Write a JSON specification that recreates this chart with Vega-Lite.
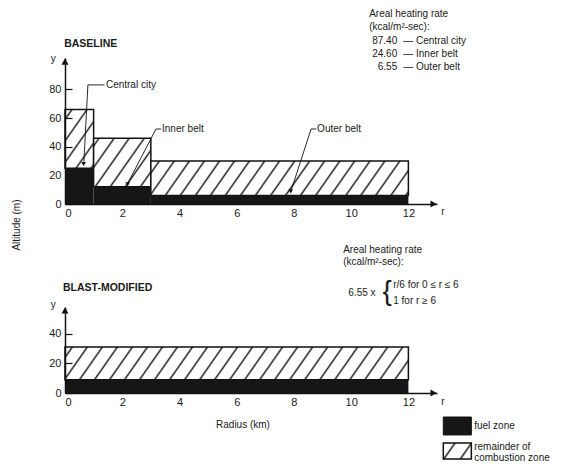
{
  "$schema": "https://vega.github.io/schema/vega-lite/v6.json",
  "background": "white",
  "padding": {"left": 11, "top": 8, "right": 2, "bottom": 2},
  "bounds": "flush",
  "spacing": 103,
  "config": {
    "view": {"stroke": null},
    "font": "Liberation Sans",
    "axis": {"grid": false, "labelFont": "Liberation Sans", "labelFontSize": 11, "labelColor": "#1a1a1a", "domainColor": "#111111", "domainWidth": 1.5, "tickColor": "#111111", "tickWidth": 1.2, "labelOverlap": false},
    "text": {"font": "Liberation Sans", "fontSize": 10, "color": "#1a1a1a"}
  },
  "resolve": {"scale": {"x": "independent", "y": "independent"}},
  "vconcat": [
    {
      "width": 372,
      "height": 146,
      "data": {"values": [
        {"panel": "Baseline", "zone": "Central city", "r0": 0, "r1": 1, "fuel": 25, "top": 66},
        {"panel": "Baseline", "zone": "Inner belt", "r0": 1, "r1": 3, "fuel": 12, "top": 46},
        {"panel": "Baseline", "zone": "Outer belt", "r0": 3, "r1": 12, "fuel": 6, "top": 30}
      ]},
      "layer": [
        {
          "transform": [{"filter": "datum.zone === 'Central city'"}],
          "mark": {"type": "rect", "stroke": "#111111", "strokeWidth": 1.5, "fill": {"gradient": "linear", "x1": 0, "y1": 0, "x2": 0.796, "y2": 1.142, "stops": [
            {"offset": 0.074, "color": "#ffffff"}, {"offset": 0.1, "color": "#222222"}, {"offset": 0.126, "color": "#ffffff"},
            {"offset": 0.29, "color": "#ffffff"}, {"offset": 0.316, "color": "#222222"}, {"offset": 0.342, "color": "#ffffff"},
            {"offset": 0.506, "color": "#ffffff"}, {"offset": 0.532, "color": "#222222"}, {"offset": 0.558, "color": "#ffffff"},
            {"offset": 0.722, "color": "#ffffff"}, {"offset": 0.748, "color": "#222222"}, {"offset": 0.774, "color": "#ffffff"},
            {"offset": 0.938, "color": "#ffffff"}, {"offset": 0.964, "color": "#222222"}, {"offset": 0.99, "color": "#ffffff"}
          ]}},
          "encoding": {
            "x": {"field": "r0", "type": "quantitative", "scale": {"domain": [0, 13], "nice": false}, "axis": {"values": [0, 2, 4, 6, 8, 10, 12], "ticks": false, "labelPadding": 3, "labelOverlap": false, "title": null}},
            "x2": {"field": "r1"},
            "y": {"field": "fuel", "type": "quantitative", "scale": {"domain": [0, 102], "nice": false}, "axis": {"values": [0, 20, 40, 60, 80], "tickSize": -7, "labelPadding": 11, "labelOverlap": false, "zindex": 1, "title": null}},
            "y2": {"field": "top"}
          }
        },
        {
          "transform": [{"filter": "datum.zone === 'Inner belt'"}],
          "mark": {"type": "rect", "stroke": "#111111", "strokeWidth": 1.5, "fill": {"gradient": "linear", "x1": 0, "y1": 0, "x2": 1.178, "y2": 0.702, "stops": [
            {"offset": 0.04, "color": "#ffffff"}, {"offset": 0.06, "color": "#222222"}, {"offset": 0.08, "color": "#ffffff"},
            {"offset": 0.205, "color": "#ffffff"}, {"offset": 0.225, "color": "#222222"}, {"offset": 0.245, "color": "#ffffff"},
            {"offset": 0.37, "color": "#ffffff"}, {"offset": 0.39, "color": "#222222"}, {"offset": 0.41, "color": "#ffffff"},
            {"offset": 0.535, "color": "#ffffff"}, {"offset": 0.555, "color": "#222222"}, {"offset": 0.575, "color": "#ffffff"},
            {"offset": 0.7, "color": "#ffffff"}, {"offset": 0.72, "color": "#222222"}, {"offset": 0.74, "color": "#ffffff"},
            {"offset": 0.865, "color": "#ffffff"}, {"offset": 0.885, "color": "#222222"}, {"offset": 0.905, "color": "#ffffff"}
          ]}},
          "encoding": {
            "x": {"field": "r0", "type": "quantitative", "axis": {"values": [0, 2, 4, 6, 8, 10, 12], "ticks": false, "labelPadding": 3, "labelOverlap": false, "title": null}},
            "x2": {"field": "r1"},
            "y": {"field": "fuel", "type": "quantitative", "axis": {"values": [0, 20, 40, 60, 80], "tickSize": -7, "labelPadding": 11, "labelOverlap": false, "zindex": 1, "title": null}},
            "y2": {"field": "top"}
          }
        },
        {
          "transform": [{"filter": "datum.zone === 'Outer belt'"}],
          "mark": {"type": "rect", "stroke": "#111111", "strokeWidth": 1.5, "fill": {"gradient": "linear", "x1": 0, "y1": 0, "x2": 1.084, "y2": 0.1013, "stops": [
            {"offset": 0.0235, "color": "#ffffff"}, {"offset": 0.03, "color": "#222222"}, {"offset": 0.0365, "color": "#ffffff"},
            {"offset": 0.0765, "color": "#ffffff"}, {"offset": 0.083, "color": "#222222"}, {"offset": 0.0895, "color": "#ffffff"},
            {"offset": 0.1305, "color": "#ffffff"}, {"offset": 0.137, "color": "#222222"}, {"offset": 0.1435, "color": "#ffffff"},
            {"offset": 0.1835, "color": "#ffffff"}, {"offset": 0.19, "color": "#222222"}, {"offset": 0.1965, "color": "#ffffff"},
            {"offset": 0.2375, "color": "#ffffff"}, {"offset": 0.244, "color": "#222222"}, {"offset": 0.2505, "color": "#ffffff"},
            {"offset": 0.2905, "color": "#ffffff"}, {"offset": 0.297, "color": "#222222"}, {"offset": 0.3035, "color": "#ffffff"},
            {"offset": 0.3435, "color": "#ffffff"}, {"offset": 0.35, "color": "#222222"}, {"offset": 0.3565, "color": "#ffffff"},
            {"offset": 0.3975, "color": "#ffffff"}, {"offset": 0.404, "color": "#222222"}, {"offset": 0.4105, "color": "#ffffff"},
            {"offset": 0.4505, "color": "#ffffff"}, {"offset": 0.457, "color": "#222222"}, {"offset": 0.4635, "color": "#ffffff"},
            {"offset": 0.5045, "color": "#ffffff"}, {"offset": 0.511, "color": "#222222"}, {"offset": 0.5175, "color": "#ffffff"},
            {"offset": 0.5575, "color": "#ffffff"}, {"offset": 0.564, "color": "#222222"}, {"offset": 0.5705, "color": "#ffffff"},
            {"offset": 0.6105, "color": "#ffffff"}, {"offset": 0.617, "color": "#222222"}, {"offset": 0.6235, "color": "#ffffff"},
            {"offset": 0.6645, "color": "#ffffff"}, {"offset": 0.671, "color": "#222222"}, {"offset": 0.6775, "color": "#ffffff"},
            {"offset": 0.7175, "color": "#ffffff"}, {"offset": 0.724, "color": "#222222"}, {"offset": 0.7305, "color": "#ffffff"},
            {"offset": 0.7715, "color": "#ffffff"}, {"offset": 0.778, "color": "#222222"}, {"offset": 0.7845, "color": "#ffffff"},
            {"offset": 0.8245, "color": "#ffffff"}, {"offset": 0.831, "color": "#222222"}, {"offset": 0.8375, "color": "#ffffff"},
            {"offset": 0.8775, "color": "#ffffff"}, {"offset": 0.884, "color": "#222222"}, {"offset": 0.8905, "color": "#ffffff"},
            {"offset": 0.9315, "color": "#ffffff"}, {"offset": 0.938, "color": "#222222"}, {"offset": 0.9445, "color": "#ffffff"},
            {"offset": 0.9845, "color": "#ffffff"}, {"offset": 0.991, "color": "#222222"}, {"offset": 0.9975, "color": "#ffffff"}
          ]}},
          "encoding": {
            "x": {"field": "r0", "type": "quantitative", "axis": {"values": [0, 2, 4, 6, 8, 10, 12], "ticks": false, "labelPadding": 3, "labelOverlap": false, "title": null}},
            "x2": {"field": "r1"},
            "y": {"field": "fuel", "type": "quantitative", "axis": {"values": [0, 20, 40, 60, 80], "tickSize": -7, "labelPadding": 11, "labelOverlap": false, "zindex": 1, "title": null}},
            "y2": {"field": "top"}
          }
        },
        {
          "mark": {"type": "rect", "fill": "#161616"},
          "encoding": {
            "x": {"field": "r0", "type": "quantitative", "axis": {"values": [0, 2, 4, 6, 8, 10, 12], "ticks": false, "labelPadding": 3, "labelOverlap": false, "title": null}},
            "x2": {"field": "r1"},
            "y": {"field": "fuel", "type": "quantitative", "axis": {"values": [0, 20, 40, 60, 80], "tickSize": -7, "labelPadding": 11, "labelOverlap": false, "zindex": 1, "title": null}},
            "y2": {"datum": 0}
          }
        },
        {
          "data": {"values": [
            {"r_a": 0.80, "alt_a": 83.2, "r_b": 1.38, "alt_b": 83.2},
            {"r_a": 0.80, "alt_a": 83.2, "r_b": 0.66, "alt_b": 29.5},
            {"r_a": 3.18, "alt_a": 52.4, "r_b": 3.36, "alt_b": 52.4},
            {"r_a": 3.18, "alt_a": 52.4, "r_b": 2.22, "alt_b": 15.5},
            {"r_a": 8.60, "alt_a": 52.4, "r_b": 8.78, "alt_b": 52.4},
            {"r_a": 8.60, "alt_a": 52.4, "r_b": 7.92, "alt_b": 10.5}
          ]},
          "mark": {"type": "rule", "color": "#111111", "strokeWidth": 0.9},
          "encoding": {
            "x": {"field": "r_a", "type": "quantitative", "axis": {"values": [0, 2, 4, 6, 8, 10, 12], "ticks": false, "labelPadding": 3, "labelOverlap": false, "title": null}},
            "y": {"field": "alt_a", "type": "quantitative", "axis": {"values": [0, 20, 40, 60, 80], "tickSize": -7, "labelPadding": 11, "labelOverlap": false, "zindex": 1, "title": null}},
            "x2": {"field": "r_b"},
            "y2": {"field": "alt_b"}
          }
        },
        {
          "data": {"values": [
            {"r": 0.65, "alt": 28.0},
            {"r": 2.19, "alt": 13.8},
            {"r": 7.89, "alt": 8.8}
          ]},
          "mark": {"type": "point", "shape": "triangle-down", "filled": true, "color": "#111111", "size": 22, "opacity": 1},
          "encoding": {
            "x": {"field": "r", "type": "quantitative", "axis": {"values": [0, 2, 4, 6, 8, 10, 12], "ticks": false, "labelPadding": 3, "labelOverlap": false, "title": null}},
            "y": {"field": "alt", "type": "quantitative", "axis": {"values": [0, 20, 40, 60, 80], "tickSize": -7, "labelPadding": 11, "labelOverlap": false, "zindex": 1, "title": null}}
          }
        },
        {
          "data": {"values": [{}]},
          "mark": {"type": "point", "shape": "triangle-up", "filled": true, "color": "#111111", "size": 50, "opacity": 1},
          "encoding": {
            "x": {"datum": 0, "type": "quantitative", "axis": {"values": [0, 2, 4, 6, 8, 10, 12], "ticks": false, "labelPadding": 3, "labelOverlap": false, "title": null}},
            "y": {"datum": 99.5, "type": "quantitative", "axis": {"values": [0, 20, 40, 60, 80], "tickSize": -7, "labelPadding": 11, "labelOverlap": false, "zindex": 1, "title": null}}
          }
        },
        {
          "data": {"values": [{}]},
          "mark": {"type": "point", "shape": "triangle-right", "filled": true, "color": "#111111", "size": 50, "opacity": 1},
          "encoding": {
            "x": {"datum": 12.88, "type": "quantitative", "axis": {"values": [0, 2, 4, 6, 8, 10, 12], "ticks": false, "labelPadding": 3, "labelOverlap": false, "title": null}},
            "y": {"datum": 0, "type": "quantitative", "axis": {"values": [0, 20, 40, 60, 80], "tickSize": -7, "labelPadding": 11, "labelOverlap": false, "zindex": 1, "title": null}}
          }
        },
        {
          "data": {"values": [
            {"label": "Central city", "r": 1.43, "alt": 83.2},
            {"label": "Inner belt", "r": 3.39, "alt": 52.4},
            {"label": "Outer belt", "r": 8.81, "alt": 52.4},
            {"label": "Areal heating rate", "r": 10.63, "alt": 132.9},
            {"label": "(kcal/m²-sec):", "r": 10.63, "alt": 123.8},
            {"label": "— Central city", "r": 11.82, "alt": 114},
            {"label": "— Inner belt", "r": 11.82, "alt": 104.9},
            {"label": "— Outer belt", "r": 11.82, "alt": 95.8},
            {"label": "r", "r": 13.15, "alt": -5.6},
            {"label": "y", "r": -0.5, "alt": 101.4}
          ]},
          "mark": {"type": "text", "align": "left", "baseline": "middle", "fontSize": 10},
          "encoding": {
            "x": {"field": "r", "type": "quantitative", "axis": {"values": [0, 2, 4, 6, 8, 10, 12], "ticks": false, "labelPadding": 3, "labelOverlap": false, "title": null}},
            "y": {"field": "alt", "type": "quantitative", "axis": {"values": [0, 20, 40, 60, 80], "tickSize": -7, "labelPadding": 11, "labelOverlap": false, "zindex": 1, "title": null}},
            "text": {"field": "label"}
          }
        },
        {
          "data": {"values": [
            {"label": "87.40", "r": 11.61, "alt": 114},
            {"label": "24.60", "r": 11.61, "alt": 104.9},
            {"label": "6.55", "r": 11.61, "alt": 95.8}
          ]},
          "mark": {"type": "text", "align": "right", "baseline": "middle", "fontSize": 10},
          "encoding": {
            "x": {"field": "r", "type": "quantitative", "axis": {"values": [0, 2, 4, 6, 8, 10, 12], "ticks": false, "labelPadding": 3, "labelOverlap": false, "title": null}},
            "y": {"field": "alt", "type": "quantitative", "axis": {"values": [0, 20, 40, 60, 80], "tickSize": -7, "labelPadding": 11, "labelOverlap": false, "zindex": 1, "title": null}},
            "text": {"field": "label"}
          }
        },
        {
          "data": {"values": [{"label": "BASELINE", "r": -0.03, "alt": 111.9}]},
          "mark": {"type": "text", "align": "left", "baseline": "middle", "fontSize": 10.5, "fontWeight": "bold"},
          "encoding": {
            "x": {"field": "r", "type": "quantitative", "axis": {"values": [0, 2, 4, 6, 8, 10, 12], "ticks": false, "labelPadding": 3, "labelOverlap": false, "title": null}},
            "y": {"field": "alt", "type": "quantitative", "axis": {"values": [0, 20, 40, 60, 80], "tickSize": -7, "labelPadding": 11, "labelOverlap": false, "zindex": 1, "title": null}},
            "text": {"field": "label"}
          }
        },
        {
          "data": {"values": [{"label": "Altitude (m)", "r": -1.68, "alt": -14.7}]},
          "mark": {"type": "text", "align": "center", "baseline": "middle", "fontSize": 10, "angle": 270},
          "encoding": {
            "x": {"field": "r", "type": "quantitative", "axis": {"values": [0, 2, 4, 6, 8, 10, 12], "ticks": false, "labelPadding": 3, "labelOverlap": false, "title": null}},
            "y": {"field": "alt", "type": "quantitative", "axis": {"values": [0, 20, 40, 60, 80], "tickSize": -7, "labelPadding": 11, "labelOverlap": false, "zindex": 1, "title": null}},
            "text": {"field": "label"}
          }
        }
      ]
    },
    {
      "width": 372,
      "height": 86,
      "data": {"values": [
        {"panel": "Blast-modified", "zone": "All zones", "r0": 0, "r1": 12, "fuel": 9, "top": 31}
      ]},
      "layer": [
        {
          "mark": {"type": "rect", "stroke": "#111111", "strokeWidth": 1.5, "fill": {"gradient": "linear", "x1": 0, "y1": 0, "x2": 1.062, "y2": 0.0706, "stops": [
            {"offset": 0.015, "color": "#ffffff"}, {"offset": 0.02, "color": "#222222"}, {"offset": 0.025, "color": "#ffffff"},
            {"offset": 0.056, "color": "#ffffff"}, {"offset": 0.061, "color": "#222222"}, {"offset": 0.066, "color": "#ffffff"},
            {"offset": 0.097, "color": "#ffffff"}, {"offset": 0.102, "color": "#222222"}, {"offset": 0.107, "color": "#ffffff"},
            {"offset": 0.138, "color": "#ffffff"}, {"offset": 0.143, "color": "#222222"}, {"offset": 0.148, "color": "#ffffff"},
            {"offset": 0.179, "color": "#ffffff"}, {"offset": 0.184, "color": "#222222"}, {"offset": 0.189, "color": "#ffffff"},
            {"offset": 0.22, "color": "#ffffff"}, {"offset": 0.225, "color": "#222222"}, {"offset": 0.23, "color": "#ffffff"},
            {"offset": 0.261, "color": "#ffffff"}, {"offset": 0.266, "color": "#222222"}, {"offset": 0.271, "color": "#ffffff"},
            {"offset": 0.302, "color": "#ffffff"}, {"offset": 0.307, "color": "#222222"}, {"offset": 0.312, "color": "#ffffff"},
            {"offset": 0.343, "color": "#ffffff"}, {"offset": 0.348, "color": "#222222"}, {"offset": 0.353, "color": "#ffffff"},
            {"offset": 0.384, "color": "#ffffff"}, {"offset": 0.389, "color": "#222222"}, {"offset": 0.394, "color": "#ffffff"},
            {"offset": 0.425, "color": "#ffffff"}, {"offset": 0.43, "color": "#222222"}, {"offset": 0.435, "color": "#ffffff"},
            {"offset": 0.466, "color": "#ffffff"}, {"offset": 0.471, "color": "#222222"}, {"offset": 0.476, "color": "#ffffff"},
            {"offset": 0.507, "color": "#ffffff"}, {"offset": 0.512, "color": "#222222"}, {"offset": 0.517, "color": "#ffffff"},
            {"offset": 0.548, "color": "#ffffff"}, {"offset": 0.553, "color": "#222222"}, {"offset": 0.558, "color": "#ffffff"},
            {"offset": 0.589, "color": "#ffffff"}, {"offset": 0.594, "color": "#222222"}, {"offset": 0.599, "color": "#ffffff"},
            {"offset": 0.63, "color": "#ffffff"}, {"offset": 0.635, "color": "#222222"}, {"offset": 0.64, "color": "#ffffff"},
            {"offset": 0.671, "color": "#ffffff"}, {"offset": 0.676, "color": "#222222"}, {"offset": 0.681, "color": "#ffffff"},
            {"offset": 0.712, "color": "#ffffff"}, {"offset": 0.717, "color": "#222222"}, {"offset": 0.722, "color": "#ffffff"},
            {"offset": 0.753, "color": "#ffffff"}, {"offset": 0.758, "color": "#222222"}, {"offset": 0.763, "color": "#ffffff"},
            {"offset": 0.794, "color": "#ffffff"}, {"offset": 0.799, "color": "#222222"}, {"offset": 0.804, "color": "#ffffff"},
            {"offset": 0.835, "color": "#ffffff"}, {"offset": 0.84, "color": "#222222"}, {"offset": 0.845, "color": "#ffffff"},
            {"offset": 0.876, "color": "#ffffff"}, {"offset": 0.881, "color": "#222222"}, {"offset": 0.886, "color": "#ffffff"},
            {"offset": 0.917, "color": "#ffffff"}, {"offset": 0.922, "color": "#222222"}, {"offset": 0.927, "color": "#ffffff"},
            {"offset": 0.958, "color": "#ffffff"}, {"offset": 0.963, "color": "#222222"}, {"offset": 0.968, "color": "#ffffff"}
          ]}},
          "encoding": {
            "x": {"field": "r0", "type": "quantitative", "scale": {"domain": [0, 13], "nice": false}, "axis": {"values": [0, 2, 4, 6, 8, 10, 12], "ticks": false, "labelPadding": 3, "labelOverlap": false, "title": null}},
            "x2": {"field": "r1"},
            "y": {"field": "fuel", "type": "quantitative", "scale": {"domain": [0, 58], "nice": false}, "axis": {"values": [0, 20, 40], "tickSize": -7, "labelPadding": 11, "labelOverlap": false, "zindex": 1, "title": null}},
            "y2": {"field": "top"}
          }
        },
        {
          "mark": {"type": "rect", "fill": "#161616"},
          "encoding": {
            "x": {"field": "r0", "type": "quantitative", "title": null},
            "x2": {"field": "r1"},
            "y": {"field": "fuel", "type": "quantitative", "title": null},
            "y2": {"datum": 0}
          }
        },
        {
          "data": {"values": [{}]},
          "mark": {"type": "point", "shape": "triangle-up", "filled": true, "color": "#111111", "size": 50, "opacity": 1},
          "encoding": {"x": {"datum": 0, "type": "quantitative"}, "y": {"datum": 55.6, "type": "quantitative"}}
        },
        {
          "data": {"values": [{}]},
          "mark": {"type": "point", "shape": "triangle-right", "filled": true, "color": "#111111", "size": 50, "opacity": 1},
          "encoding": {"x": {"datum": 12.88, "type": "quantitative"}, "y": {"datum": 0, "type": "quantitative"}}
        },
        {
          "data": {"values": [{}]},
          "mark": {"type": "rect", "fill": "#161616", "stroke": "#111111", "strokeWidth": 1},
          "encoding": {"x": {"datum": 13.22, "type": "quantitative"}, "x2": {"datum": 14.2}, "y": {"datum": -16.2, "type": "quantitative"}, "y2": {"datum": -28.3}}
        },
        {
          "data": {"values": [{}]},
          "mark": {"type": "rect", "stroke": "#111111", "strokeWidth": 1.5, "fill": {"gradient": "linear", "x1": 0, "y1": 0, "x2": 1.207, "y2": 0.485, "stops": [
            {"offset": 0.253, "color": "#ffffff"}, {"offset": 0.3, "color": "#222222"}, {"offset": 0.347, "color": "#ffffff"},
            {"offset": 0.673, "color": "#ffffff"}, {"offset": 0.72, "color": "#222222"}, {"offset": 0.767, "color": "#ffffff"}
          ]}},
          "encoding": {"x": {"datum": 13.22, "type": "quantitative"}, "x2": {"datum": 14.2}, "y": {"datum": -33.7, "type": "quantitative"}, "y2": {"datum": -44.5}}
        },
        {
          "data": {"values": [
            {"label": "Areal heating rate", "r": 9.72, "alt": 96.4},
            {"label": "(kcal/m²-sec):", "r": 9.72, "alt": 88.3},
            {"label": "6.55 x", "r": 9.9, "alt": 67.4},
            {"label": "r/6 for 0 ≤ r ≤ 6", "r": 11.47, "alt": 72.8},
            {"label": "1  for r ≥ 6", "r": 11.47, "alt": 62},
            {"label": "fuel zone", "r": 14.3, "alt": -22.3},
            {"label": "remainder of", "r": 14.3, "alt": -36.4},
            {"label": "combustion zone", "r": 14.3, "alt": -43.8},
            {"label": "r", "r": 13.15, "alt": -6},
            {"label": "y", "r": -0.5, "alt": 59.3}
          ]},
          "mark": {"type": "text", "align": "left", "baseline": "middle", "fontSize": 10},
          "encoding": {
            "x": {"field": "r", "type": "quantitative", "title": null},
            "y": {"field": "alt", "type": "quantitative", "title": null},
            "text": {"field": "label"}
          }
        },
        {
          "data": {"values": [{"label": "Radius (km)", "r": 6.22, "alt": -21.6}]},
          "mark": {"type": "text", "align": "center", "baseline": "middle", "fontSize": 10},
          "encoding": {
            "x": {"field": "r", "type": "quantitative", "title": null},
            "y": {"field": "alt", "type": "quantitative", "title": null},
            "text": {"field": "label"}
          }
        },
        {
          "data": {"values": [{"label": "{", "r": 11.26, "alt": 68.1}]},
          "mark": {"type": "text", "align": "center", "baseline": "middle", "fontSize": 28},
          "encoding": {
            "x": {"field": "r", "type": "quantitative", "title": null},
            "y": {"field": "alt", "type": "quantitative", "title": null},
            "text": {"field": "label"}
          }
        },
        {
          "data": {"values": [{"label": "BLAST-MODIFIED", "r": -0.07, "alt": 70.8}]},
          "mark": {"type": "text", "align": "left", "baseline": "middle", "fontSize": 10.5, "fontWeight": "bold"},
          "encoding": {
            "x": {"field": "r", "type": "quantitative", "title": null},
            "y": {"field": "alt", "type": "quantitative", "title": null},
            "text": {"field": "label"}
          }
        }
      ]
    }
  ]
}
